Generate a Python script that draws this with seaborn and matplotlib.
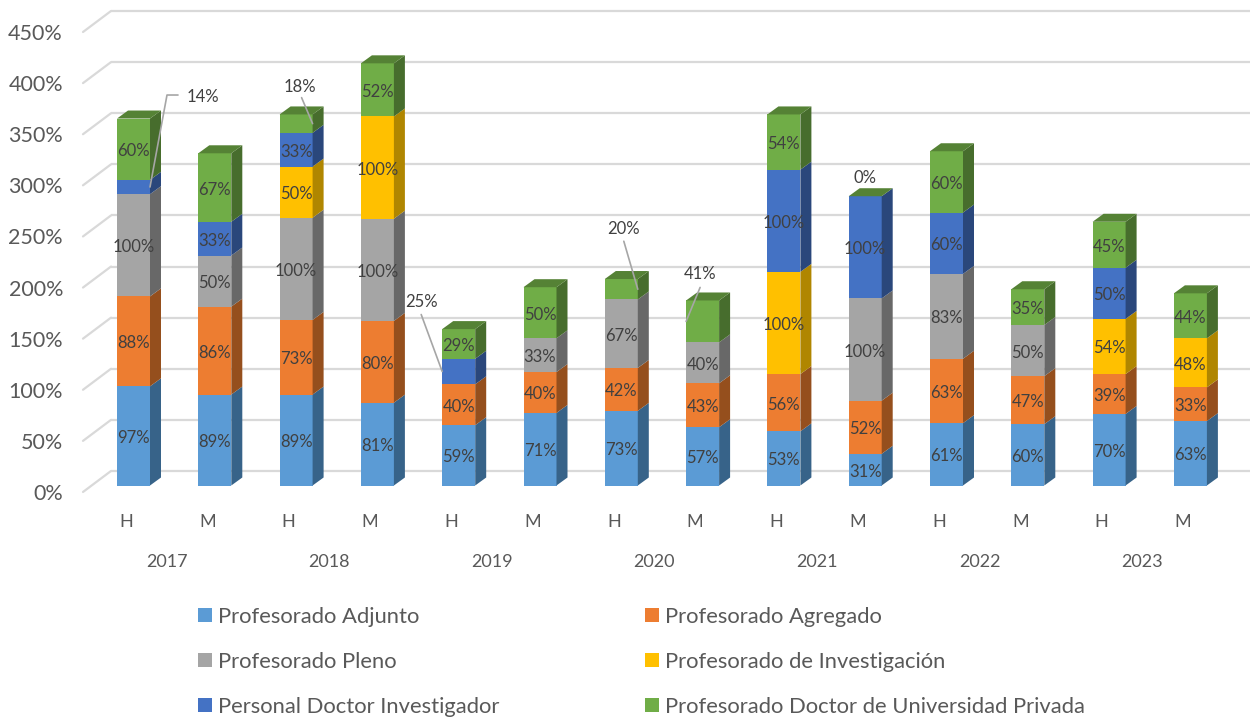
import matplotlib.pyplot as plt
import numpy as np
import pandas as pd
import seaborn as sns

years = ['2017', '2018', '2019', '2020', '2021', '2022', '2023']
sexes = ['H', 'M'] * 7
names = ['Profesorado Adjunto', 'Profesorado Agregado', 'Profesorado Pleno',
         'Profesorado de Investigación', 'Personal Doctor Investigador',
         'Profesorado Doctor de Universidad Privada']

adjunto = [97, 89, 89, 81, 59, 71, 73, 57, 53, 31, 61, 60, 70, 63]
agregado = [88, 86, 73, 80, 40, 40, 42, 43, 56, 52, 63, 47, 39, 33]
pleno = [100, 50, 100, 100, 0, 33, 67, 40, 0, 100, 83, 50, 0, 0]
investigacion = [0, 0, 50, 100, 0, 0, 0, 0, 100, 0, 0, 0, 54, 48]
doctor = [14, 33, 33, 0, 25, 0, 0, 0, 100, 100, 60, 0, 50, 0]
privada = [60, 67, 18, 52, 29, 50, 20, 41, 54, 0, 60, 35, 45, 44]
series = [adjunto, agregado, pleno, investigacion, doctor, privada]

front = ['#5b9bd5', '#ed7d31', '#a5a5a5', '#ffc000', '#4472c4', '#70ad47']
side = ['#376389', '#954f1d', '#686868', '#b08600', '#2a477b', '#476d2d']
top_color = '#558235'
grid_ticks = np.arange(0, 451, 50)

# pixel scale of the chart, depth of the 3D look
W, H = 1257, 717
X0, STEP = 133.5, 81.3
Y0, PX = 485.5, 1.0222
BAR = 33 / STEP
DX, DY = 11 / STEP, 8 / PX
TXT = 2 / PX  # Lato sits a bit high when centred

# labels with a leader line: (series, bar): side of bar, line points and text, pixels from the anchor
callouts = {
    (4, 0): (1, [(17, 92), (28, 92)], (53, 92)),
    (5, 2): (1, [(-11, 26)], (-13, 39)),
    (4, 4): (-1, [(-21, 57)], (-21, 72)),
    (5, 6): (1, [(-14, 48)], (-14, 62)),
    (5, 7): (-1, [(14, 34)], (14, 49)),
}

sns.set_style('white')
plt.rcParams['font.family'] = ['Lato', 'DejaVu Sans']

fig = plt.figure(figsize=(W / 100, H / 100), dpi=100)
ax = fig.add_axes([0, 0, 1, 1])

x = np.arange(14)
bottoms = np.zeros(14)
df = pd.DataFrame({'x': x})

for i, (vals, name) in enumerate(zip(series, names)):
    df['value'] = vals
    df['bottom'] = bottoms
    sns.barplot(data=df, x='x', y='value', bottom=df['bottom'].values, color=front[i],
                saturation=1, width=BAR, native_scale=True, errorbar=None,
                label=name, ax=ax, zorder=3, linewidth=0)
    # side face of each segment
    for k in x:
        r = k + BAR / 2
        b, t = bottoms[k], bottoms[k] + vals[k]
        if vals[k] > 0:
            ax.fill([r, r + DX, r + DX, r], [b, b + DY, t + DY, t],
                    color=side[i], lw=0, zorder=3)
    bottoms = bottoms + np.array(vals)

# top face of each stack
for k in x:
    l, r = k - BAR / 2, k + BAR / 2
    t = bottoms[k]
    ax.fill([l, r, r + DX, l + DX], [t, t, t + DY, t + DY], color=top_color, lw=0, zorder=3)

ax.set_xlim(-X0 / STEP, (W - X0) / STEP)
ax.set_ylim((Y0 - H) / PX, Y0 / PX)
ax.axis('off')

# back wall grid with the slanted floor lines
back = 14.2
for v in grid_ticks:
    ax.plot([(111 - X0) / STEP, (1250 - X0) / STEP], [v + back, v + back],
            color='#d9d9d9', lw=1.6, zorder=1, solid_capstyle='butt')
    ax.plot([(83 - X0) / STEP, (111 - X0) / STEP], [v + back - 21 / PX, v + back],
            color='#d9d9d9', lw=1.6, zorder=1)
    ax.text((63 - X0) / STEP, v + back - 21 / PX - TXT, f'{v}%', ha='right', va='center',
            fontsize=15.5, color='#595959')

# segment labels
bottoms = np.zeros(14)
for i, vals in enumerate(series):
    for k in x:
        mid = bottoms[k] + vals[k] / 2
        if (i, k) in callouts:
            sgn, path, txt = callouts[(i, k)]
            ax0 = k + sgn * BAR / 2
            xs = [ax0] + [ax0 + p[0] / STEP for p in path]
            ys = [mid] + [mid + p[1] / PX for p in path]
            ax.plot(xs, ys, color='#a6a6a6', lw=1.2, zorder=4)
            ax.text(ax0 + txt[0] / STEP, mid + txt[1] / PX - TXT, f'{vals[k]}%', ha='center',
                    va='center', fontsize=12, color='#404040', zorder=5)
        elif vals[k] > 0:
            ax.text(k, mid - TXT, f'{vals[k]}%', ha='center', va='center',
                    fontsize=12, color='#404040', zorder=5)
    bottoms = bottoms + np.array(vals)

# the empty green segment of 2021 M
ax.text(9, bottoms[9] + 20 / PX - TXT, f'{privada[9]}%', ha='center', va='center',
        fontsize=12, color='#404040', zorder=5)

# category axis
for k, s in zip(x, sexes):
    ax.text(k - 7.5 / STEP, (Y0 - 520) / PX - TXT, s, ha='center', va='center',
            fontsize=13, color='#595959')
for n, year in enumerate(years):
    ax.text(2 * n + 0.5 - 7.5 / STEP, (Y0 - 560) / PX - TXT, year, ha='center', va='center',
            fontsize=13, color='#595959')

handles, labels = ax.get_legend_handles_labels()
order = [0, 2, 4, 1, 3, 5]
ax.legend([handles[j] for j in order], [labels[j] for j in order], ncol=2,
          loc='upper left', bbox_to_anchor=(198 / W, 1 - 607 / H), bbox_transform=fig.transFigure,
          borderaxespad=0, borderpad=0, frameon=False, fontsize=15.8,
          handlelength=0.63, handleheight=0.63, handletextpad=0.27,
          labelspacing=1.14, columnspacing=6.65, labelcolor='#595959')

fig.savefig('out.png', dpi=100)
